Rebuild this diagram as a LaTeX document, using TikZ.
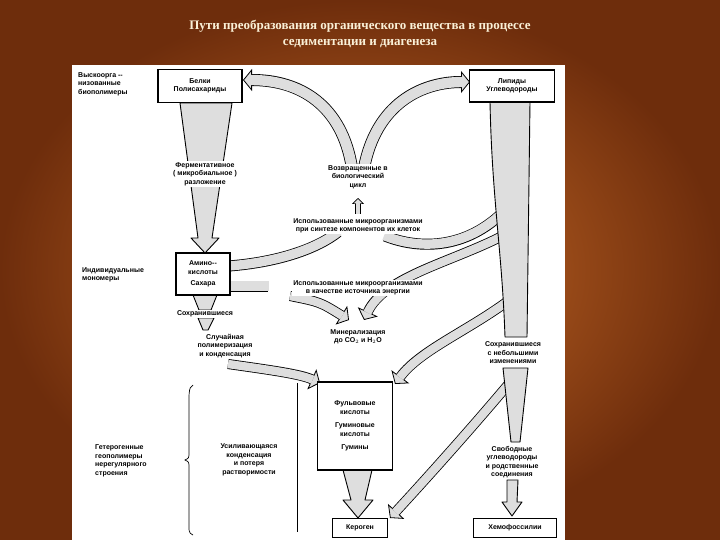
\documentclass[tikz,border=0pt]{standalone}
\usepackage{fontspec}
\setmainfont{Liberation Serif}
\newfontfamily\dsans{Liberation Sans}
\usetikzlibrary{arrows.meta}
\definecolor{bgIn}{RGB}{205,110,40}
\definecolor{bgOut}{RGB}{110,45,12}
\definecolor{stip}{RGB}{222,222,222}
\definecolor{ttl}{RGB}{250,240,215}
\newcommand\band[2][11pt]{%
 \draw[line width=#1, -{Triangle[length=9pt,width=22pt,fill=stip,line width=0.8pt]}] #2;
 \draw[line width=#1-1.6pt, stip, shorten >=8pt] #2;}
\newcommand\bandn[2][11pt]{%
 \draw[line width=#1] #2;
 \draw[line width=#1-1.6pt, stip, shorten >=-1pt, shorten <=-1pt] #2;}
\tikzset{
 box/.style={draw, line width=1.2pt, fill=white, align=center, font=\dsans\fontsize{7}{8.5}\selectfont\bfseries, inner sep=3pt},
 lbl/.style={align=center, font=\dsans\fontsize{7}{8.5}\selectfont\bfseries, fill=white, inner sep=1pt},
 lbll/.style={align=left, font=\dsans\fontsize{7}{8.5}\selectfont\bfseries, inner sep=1pt, anchor=west},
 wedge/.style={draw, line width=0.9pt, fill=stip, line join=round}
}
\begin{document}
\begin{tikzpicture}[x=1pt,y=-1pt]
\useasboundingbox (0,0) rectangle (720,540);
\shade[inner color=bgIn, outer color=bgOut] (0,0) rectangle (720,540);
\node[font=\bfseries\fontsize{13}{16}\selectfont, text=ttl, align=center] (title) at (360,34)
 {Пути преобразования органического вещества в процессе\\седиментации и диагенеза};
\fill[white] (72,65) rectangle (565,540);

% bands
\band[12pt]{(352,168) .. controls (342,105) and (300,80) .. (243,80)}
\band[12pt]{(364,168) .. controls (376,105) and (420,82) .. (470,82)}
\bandn{(229,266) .. controls (280,262) and (318,248) .. (338,232)}
\bandn{(510,205) .. controls (470,250) and (420,250) .. (385,236)}
\bandn{(229,286) -- (268,286)}
\band[10pt]{(290,296) .. controls (320,302) .. (349,320)}
\band[10pt]{(510,232) .. controls (455,262) and (385,275) .. (364,320)}
\band[10pt]{(228,364) .. controls (270,370) and (300,374) .. (320,383)}
\band[10pt]{(512,298) .. controls (470,330) and (420,350) .. (395,384)}
\band[10pt]{(512,380) .. controls (470,430) and (425,480) .. (390,518)}
\draw[line width=6pt,-{Triangle[length=6pt,width=12pt,fill=stip,line width=0.6pt]}] (358,214)--(358,198);
\draw[line width=4.6pt,stip,shorten >=5pt] (358,214)--(358,198);

% wedges
\path[wedge] (180,103)--(232,103)--(212,238)--(219,238)--(205,253)--(191,238)--(198,238)--cycle;
\path[wedge] (193,295)--(217,295)--(211,310)--(199,310)--cycle;
\path[wedge] (198,318)--(214,318)--(208,330)--(203,330)--cycle;
\path[wedge] (490,102)--(530,102)--(527,337)--(505,337) .. controls (502,250) and (492,200) .. cycle;
\path[wedge] (503,368)--(528,368)--(520,442)--(511,442)--cycle;
\path[wedge] (507,480)--(518,480)--(517,502)--(522,502)--(512,516)--(502,502)--(507,502)--cycle;
\path[wedge] (343,470)--(372,470)--(365,500)--(373,500)--(358,518)--(343,500)--(351,500)--cycle;

% boxes
\node[box, minimum width=84pt, minimum height=33pt] (bel) at (200,86) {Белки\\Полисахариды};
\node[box, minimum width=85pt, minimum height=32pt] (lip) at (512,86) {Липиды\\Углеводороды};
\node[box, minimum width=54pt, minimum height=42pt] (ami) at (203,274) {Амино--\\кислоты\\[3pt]Сахара};
\node[box, minimum width=75pt, minimum height=88pt, align=center] (ful) at (355,426)
 {Фульвовые\\кислоты\\[5pt]Гуминовые\\кислоты\\[5pt]Гумины};
\node[box, minimum width=55pt, minimum height=19pt] (ker) at (360,528) {Кероген};
\node[box, minimum width=83pt, minimum height=19pt] (hem) at (515,528) {Хемофоссилии};

% labels
\node[lbll] (t1) at (77,84) {Выскоорга --\\низованные\\биополимеры};
\node[lbl] (t2) at (205,174) {Ферментативное\\( микробиальное )\\разложение};
\node[lbl] (t3) at (358,177) {Возвращенные в\\биологический\\цикл};
\node[lbl] (t4) at (358,226) {Использованные микроорганизмами\\при синтезе компонентов их клеток};
\node[lbll] (t5) at (81,275) {Индивидуальные\\мономеры};
\node[lbl] (t6) at (358,288) {Использованные микроорганизмами\\в качестве источника энергии};
\node[lbl] (t7) at (205,314) {Сохранившиеся};
\node[lbl] (t8) at (225,346) {Случайная\\полимеризация\\и конденсация};
\node[lbl] (t9) at (358,337) {Минерализация\\до CO$_2$ и H$_2$O};
\node[lbl] (t10) at (513,353) {Сохранившиеся\\с небольшими\\изменениями};
\node[lbll] (t11) at (94,461) {Гетерогенные\\геополимеры\\нерегулярного\\строения};
\node[lbl] (t12) at (249,460) {Усиливающаяся\\конденсация\\и потеря\\растворимости};
\node[lbl] (t13) at (512,462) {Свободные\\углеводороды\\и родственные\\соединения};
\draw[line width=0.7pt] (193,385) .. controls (188,387) and (189,395) .. (189,420) -- (189,452) .. controls (189,458) .. (185,460) .. controls (189,462) .. (189,468) -- (189,520) .. controls (189,530) and (188,533) .. (193,535);
\draw[line width=0.7pt] (297,383) -- (297,532);
\end{tikzpicture}
\end{document}
